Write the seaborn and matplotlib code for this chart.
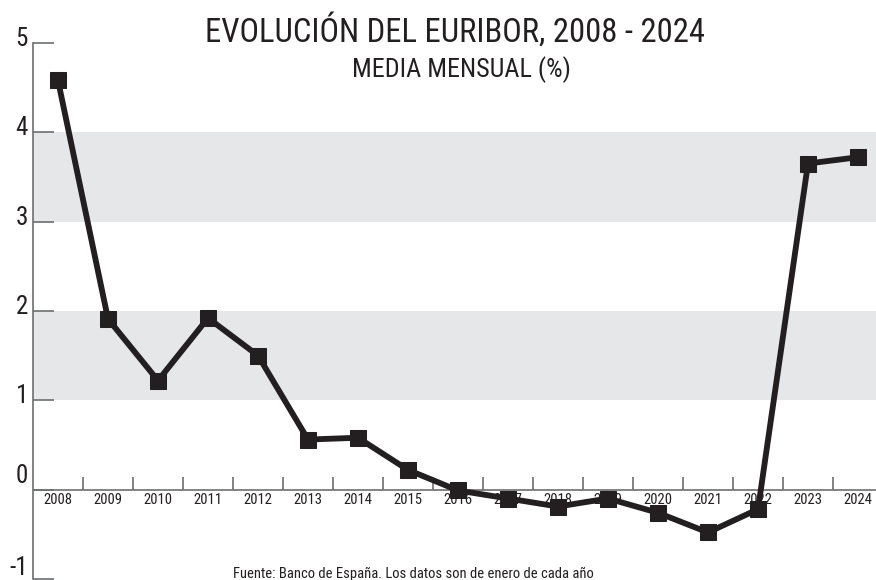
import numpy as np
import pandas as pd
import matplotlib
matplotlib.use("Agg")
import matplotlib.pyplot as plt
import matplotlib.transforms as mtransforms
from matplotlib import font_manager
import seaborn as sns

# ================= data =================
YEARS = ["2008", "2009", "2010", "2011", "2012", "2013", "2014", "2015", "2016",
         "2017", "2018", "2019", "2020", "2021", "2022", "2023", "2024"]
EURIBOR = [4.58, 1.91, 1.22, 1.92, 1.50, 0.56, 0.58, 0.22, -0.01,
           -0.10, -0.19, -0.10, -0.26, -0.48, -0.22, 3.65, 3.72]
Y_TICKS = [-1, 0, 1, 2, 3, 4, 5]
BANDS = [(1, 2), (3, 4)]
TITLE = "EVOLUCIÓN DEL EURIBOR, 2008 - 2024"
SUBTITLE = "MEDIA MENSUAL (%)"
SOURCE = "Fuente: Banco de España. Los datos son de enero de cada año"
# =========================================

INK = "#231f20"
AXIS_GREY = "#6d6e70"
BAND_GREY = "#e6e7e8"


def condensed_candidates():
    out = []
    for f in font_manager.fontManager.ttflist:
        name = (f.name + " " + f.fname).lower()
        narrow = f.stretch in ("condensed", "semi-condensed", "extra-condensed", "ultra-condensed") \
            or "condensed" in name or "narrow" in name
        if not narrow or f.style != "normal" or "italic" in name or "mono" in name:
            continue
        if any(k in f.fname.lower() for k in ("bold", "black", "medium", "semibold", "thin", "light")):
            continue
        w = f.weight if isinstance(f.weight, int) else 400
        if w < 350 or w > 450:
            continue
        if not any(k in name for k in ("roboto", "noto", "open", "liberation", "dejavu", "lato", "inter")):
            continue
        out.append(f.fname)
    return sorted(set(out))


def pick_font(fig):
    # condensed regular face whose title width is closest to the reference (474px at 29pt)
    r = fig.canvas.get_renderer()
    best = None
    for path in condensed_candidates():
        try:
            p = font_manager.FontProperties(fname=path, size=29)
            t = fig.text(0, 0, TITLE, fontproperties=p)
            w = t.get_window_extent(r).width
            t.remove()
        except Exception:
            continue
        if best is None or abs(w - 474) < best[0]:
            best = (abs(w - 474), path, w)
    if best is None:
        return font_manager.FontProperties(family="DejaVu Sans"), 22.0
    return font_manager.FontProperties(fname=best[1]), 29.0 * (474 / best[2]) ** 0.8


sns.set_style("white")
plt.rcParams['font.family'] = ['DejaVu Sans']

df = pd.DataFrame({"idx": np.arange(len(YEARS)), "year": YEARS, "value": EURIBOR})

fig = plt.figure(figsize=(8.76, 5.8), dpi=100)
FP, TITLE_SIZE = pick_font(fig)


def fp(size):
    p = FP.copy()
    p.set_size(size)
    return p


ax = fig.add_axes([33 / 876, 1.1 / 580, 843 / 876, (579 - 43) / 580])

for lo, hi in BANDS:
    ax.axhspan(lo, hi, color=BAND_GREY, lw=0, zorder=0)

sns.lineplot(data=df, x="idx", y="value", ax=ax, color=INK, linewidth=4.2,
             marker="s", markersize=12, markeredgecolor=INK, markerfacecolor=INK,
             zorder=5)

ax.set_xlim(-0.5, 16.36)
ax.set_ylim(Y_TICKS[0], Y_TICKS[-1])

# spines / axes
for s in ["top", "right", "bottom"]:
    ax.spines[s].set_visible(False)
ax.spines["left"].set_color(AXIS_GREY)
ax.spines["left"].set_linewidth(1.2)
ax.axhline(0, color=AXIS_GREY, lw=1.2, zorder=3)
ax.vlines(df["idx"][:-1] + 0.5, 0, 0.145, color=AXIS_GREY, lw=1.2, zorder=3)

ax.set_yticks(Y_TICKS)
ax.set_yticklabels([])
ax.tick_params(axis="y", direction="in", length=15, width=1.2, color=AXIS_GREY, left=True)
ax.set_xticks([])
ax.set_xlabel("")
ax.set_ylabel("")

# y labels
ytrans = mtransforms.blended_transform_factory(fig.transFigure, ax.transData)
for v in Y_TICKS:
    dy = 7 if v == 0 else (4 if v == -1 else -3)
    off = mtransforms.offset_copy(ytrans, fig=fig, x=0, y=dy, units="dots")
    ax.text(28 / 876, v, str(v), transform=off, ha="right", va="baseline",
            fontproperties=fp(18), color=INK, clip_on=False)

# year labels under the zero line
for i, yr in enumerate(YEARS):
    ax.text(i, -0.04, yr, ha="center", va="top", fontproperties=fp(10.5), color=INK, zorder=2)

fig.text(455 / 876, 1 - 42 / 580, TITLE, ha="center", va="baseline",
         fontproperties=fp(TITLE_SIZE), color=INK)
fig.text(462 / 876, 1 - 77 / 580, SUBTITLE, ha="center", va="baseline",
         fontproperties=fp(TITLE_SIZE * 0.8), color=INK)
fig.text(233 / 876, 1 - 578 / 580, SOURCE, ha="left", va="baseline", fontproperties=fp(10.5), color=INK)

fig.savefig("out.png", dpi=100)
